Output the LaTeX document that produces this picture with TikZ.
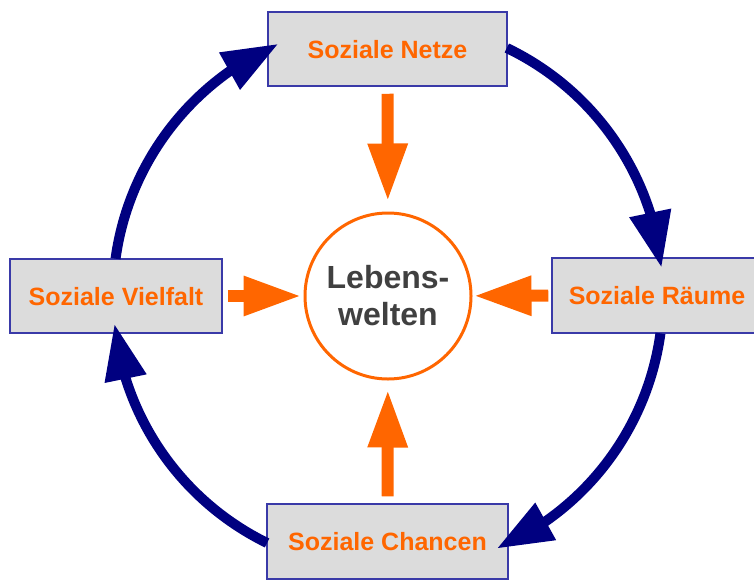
\documentclass[tikz,border=0pt]{standalone}
\usepackage{fontspec}
\setmainfont{Liberation Sans}
\usetikzlibrary{arrows.meta,bending}
\definecolor{orng}{HTML}{FF6600}
\definecolor{navyb}{HTML}{000080}
\definecolor{boxline}{HTML}{3A3AA8}
\definecolor{boxfill}{HTML}{DCDCDC}
\definecolor{darktext}{HTML}{404040}
\begin{document}
\begin{tikzpicture}[x=1pt,y=-1pt,
  box/.style={draw=boxline, line width=1.5pt, fill=boxfill, rectangle,
    minimum height=74pt, inner sep=0pt, text=orng,
    font=\bfseries\fontsize{25}{28}\selectfont, text height=18pt, text depth=0pt},
  ring/.style={draw=navyb, line width=10pt, -{Triangle[length=56pt,width=40pt]}},
  feed/.style={draw=orng, line width=12pt, -{Triangle[length=58pt,width=37pt]}},
  hub/.style={circle, draw=orng, line width=3pt, fill=white, minimum size=166pt,
    inner sep=0pt, align=center, text=darktext,
    font=\bfseries\fontsize{32}{37}\selectfont}
]
\useasboundingbox (0,0) rectangle (754,579);
\coordinate (C) at (388,296);
\node[box, minimum width=239pt] (net) at (387.5,49) {Soziale Netze};
\node[box, minimum width=212pt] (vie) at (116,296) {Soziale Vielfalt};
\node[box, minimum width=210pt, minimum height=75pt] (rau) at (657,295.5) {Soziale Räume};
\node[box, minimum width=241pt, minimum height=75pt] (cha) at (387.5,541.5) {Soziale Chancen};
\node[hub] (lw) at (C) {Lebens-\\welten};
% orange feeds
\draw[feed, shorten <=7pt, shorten >=10pt] (net) -- (lw);
\draw[feed, shorten <=5pt, shorten >=2pt] (vie) -- (lw);
\draw[feed, shorten <=3pt, shorten >=1pt] (rau) -- (lw);
\draw[feed, shorten <=7pt, shorten >=9pt] (cha) -- (lw);
% blue cycle
\draw[ring] ([shift={(172.2:275pt)}]C) arc[start angle=172.2, end angle=113.5, radius=275pt];
\draw[ring] ([shift={(64.4:275pt)}]C) arc[start angle=64.4, end angle=5.9, radius=275pt];
\draw[ring] ([shift={(-7.8:275pt)}]C) arc[start angle=-7.8, end angle=-66.7, radius=275pt];
\draw[ring] ([shift={(243.9:275pt)}]C) arc[start angle=243.9, end angle=185.8, radius=275pt];
\end{tikzpicture}
\end{document}
